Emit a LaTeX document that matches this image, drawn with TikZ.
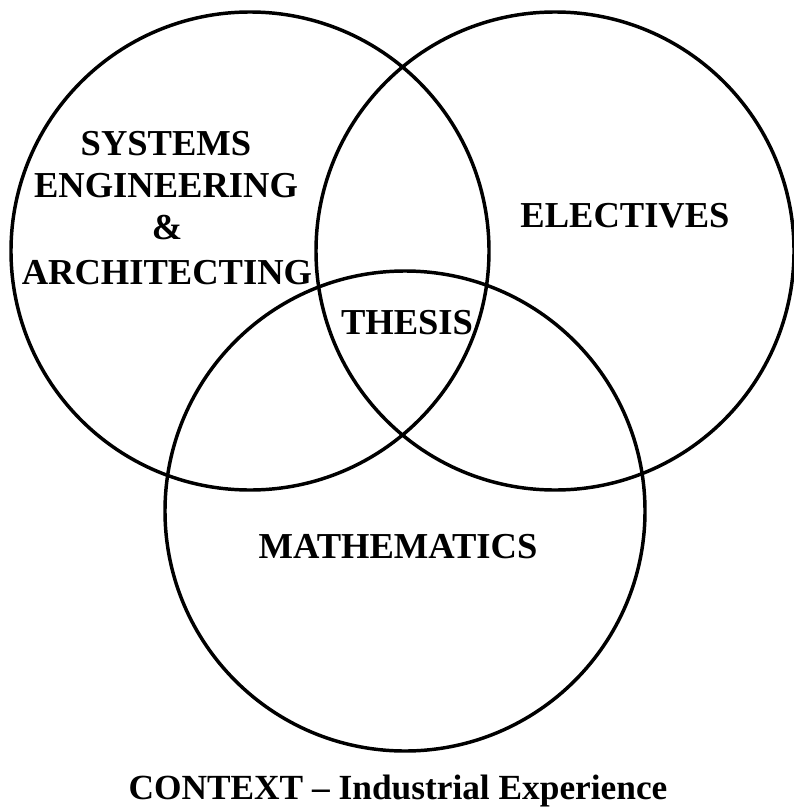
\documentclass[tikz,border=0pt]{standalone}
\usepackage{fontspec}
\setmainfont{Liberation Serif}
\begin{document}
\begin{tikzpicture}[x=0.75pt,y=-0.75pt,
  ring/.style={line width=2.6pt},
  lbl/.style={font=\fontsize{27.4pt}{31.5pt}\selectfont\bfseries, anchor=base, inner sep=0pt}]
\useasboundingbox (0,0) rectangle (793,810);
\draw[ring] (250,251) circle [radius=239];
\draw[ring] (555,251) circle [radius=239];
\draw[ring] (405,511) circle [radius=240];
\node[lbl] (s1) at (166,155) {SYSTEMS};
\node[lbl] (s2) at (166,197) {ENGINEERING};
\node[lbl] (s3) at (167,239) {\&};
\node[lbl] (s4) at (167,284) {ARCHITECTING};
\node[lbl] (el) at (625,227) {ELECTIVES};
\node[lbl] (th) at (407,334) {THESIS};
\node[lbl] (ma) at (398,558) {MATHEMATICS};
\node[lbl, font=\fontsize{26.5pt}{31.5pt}\selectfont\bfseries] (ct) at (398,799) {CONTEXT – Industrial Experience};
\end{tikzpicture}
\end{document}
